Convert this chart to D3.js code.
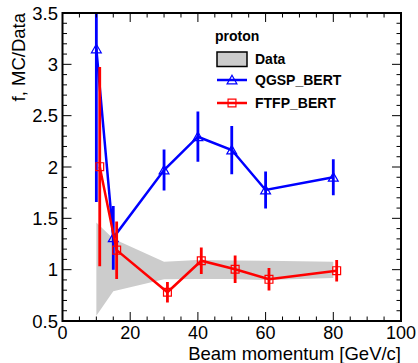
<!DOCTYPE html>
<html><head><meta charset="utf-8">
<script src="https://cdn.jsdelivr.net/npm/d3@7"></script>
<style>body{margin:0;background:#fff}svg{display:block}text{font-family:"Liberation Sans",Arial,Helvetica,sans-serif}</style>
</head><body><svg id="c" width="418" height="363"></svg>
<script>
// ---- data ----
const bandX = [10, 15, 30, 40, 50, 60, 80];
const bandLow = [0.55, 0.79, 0.906, 0.909, 0.91, 0.90, 0.92];
const bandHigh = [1.46, 1.30, 1.077, 1.094, 1.09, 1.087, 1.077];
const qgspX = [10, 15, 30, 40, 50, 60, 80];
const qgspY = [3.15, 1.31, 1.97, 2.295, 2.165, 1.776, 1.90];
const qgspErr = [1.49, 0.31, 0.20, 0.245, 0.235, 0.18, 0.175];
const ftfpX = [11, 16, 31, 41, 51, 61, 81];
const ftfpY = [2.003, 1.19, 0.78, 1.087, 1.004, 0.906, 0.99];
const ftfpErr = [0.97, 0.28, 0.10, 0.13, 0.135, 0.11, 0.105];
const xTicks = [0, 20, 40, 60, 80, 100];
const yTicks = [0.5, 1, 1.5, 2, 2.5, 3, 3.5];
const legendTitle = "proton";
const legendNames = ["Data", "QGSP_BERT", "FTFP_BERT"];

// ---- layout ----
const L = 62.5, R = 401, T = 13, B = 321;
const svg = d3.select("#c");
const x = d3.scaleLinear().domain([0, 100]).range([L, R]);
const y = d3.scaleLinear().domain([0.5, 3.5]).range([B, T]);

svg.append("defs").append("clipPath").attr("id", "clip")
  .append("rect").attr("x", L).attr("y", T).attr("width", R - L).attr("height", B - T);
const g = svg.append("g").attr("clip-path", "url(#clip)");

// band
const band = bandX.map((v, i) => ({x: v, lo: bandLow[i], hi: bandHigh[i]}));
g.append("path").datum(band)
  .attr("d", d3.area().x(d => x(d.x)).y0(d => y(d.lo)).y1(d => y(d.hi)))
  .attr("fill", "#cccccc").attr("stroke", "none");

function series(xs, ys, es, color, marker) {
  const pts = xs.map((v, i) => ({x: v, y: ys[i], e: es[i]}));
  g.append("path").datum(pts)
    .attr("d", d3.line().x(d => x(d.x)).y(d => y(d.y)))
    .attr("fill", "none").attr("stroke", color).attr("stroke-width", 2.5);
  g.selectAll(null).data(pts).enter().append("line")
    .attr("x1", d => x(d.x)).attr("x2", d => x(d.x))
    .attr("y1", d => y(d.y + d.e)).attr("y2", d => y(d.y - d.e))
    .attr("stroke", color).attr("stroke-width", 2.8);
  const sym = marker === "tri" ? d3.symbol(d3.symbolTriangle, 42) : d3.symbol(d3.symbolSquare, 62);
  g.selectAll(null).data(pts).enter().append("path")
    .attr("d", sym)
    .attr("transform", d => `translate(${x(d.x)},${y(d.y) + (marker === "tri" ? 1 : 0)})`)
    .attr("fill", "none").attr("stroke", color).attr("stroke-width", 1.2);
}
series(qgspX, qgspY, qgspErr, "#0000ff", "tri");
series(ftfpX, ftfpY, ftfpErr, "#ff0000", "sq");

// ticks (inside, all four sides)
const ax = svg.append("g").attr("stroke", "#000");
const xMinor = d3.range(0, 101, 5), yMinor = d3.range(0.5, 3.501, 0.1);
xMinor.forEach(v => {
  const len = (v % 20 === 0) ? 9 : 4.5;
  ax.append("line").attr("x1", x(v)).attr("x2", x(v)).attr("y1", B).attr("y2", B - len).attr("stroke-width", 1);
  ax.append("line").attr("x1", x(v)).attr("x2", x(v)).attr("y1", T).attr("y2", T + len).attr("stroke-width", 1);
});
yMinor.forEach(v => {
  const major = Math.abs(v * 2 - Math.round(v * 2)) < 1e-6;
  const len = major ? 9 : 4.5;
  ax.append("line").attr("y1", y(v)).attr("y2", y(v)).attr("x1", L).attr("x2", L + len).attr("stroke-width", 1);
  ax.append("line").attr("y1", y(v)).attr("y2", y(v)).attr("x1", R).attr("x2", R - len).attr("stroke-width", 1);
});
svg.append("rect").attr("x", L).attr("y", T).attr("width", R - L).attr("height", B - T)
  .attr("fill", "none").attr("stroke", "#000").attr("stroke-width", 2);

// tick labels
svg.selectAll(null).data(xTicks).enter().append("text")
  .attr("x", d => x(d)).attr("y", 339).attr("text-anchor", "middle")
  .attr("font-size", 18).text(d => d);
svg.selectAll(null).data(yTicks).enter().append("text")
  .attr("x", 58).attr("y", d => y(d)).attr("dy", "0.36em").attr("text-anchor", "end")
  .attr("font-size", 18.5).text(d => d);

// titles
svg.append("text").attr("x", R).attr("y", 359.5).attr("text-anchor", "end")
  .attr("font-size", 18.5).text("Beam momentum [GeV/c]");
svg.append("text").attr("transform", `translate(25,${T}) rotate(-90)`).attr("text-anchor", "end")
  .attr("font-size", 18.5).text("f, MC/Data");

// legend
const lg = svg.append("g");
lg.append("text").attr("x", 215).attr("y", 41).attr("font-size", 14).attr("font-weight", "bold").text(legendTitle);
lg.append("rect").attr("x", 217).attr("y", 52).attr("width", 30).attr("height", 14.5)
  .attr("fill", "#cccccc").attr("stroke", "#000").attr("stroke-width", 1.5);
lg.append("text").attr("x", 255).attr("y", 64).attr("font-size", 14).attr("font-weight", "bold").text(legendNames[0]);
[["#0000ff", "tri", 80, 85, legendNames[1]], ["#ff0000", "sq", 103, 108, legendNames[2]]].forEach(([c, m, ly, ty, name]) => {
  lg.append("line").attr("x1", 217).attr("x2", 247).attr("y1", ly).attr("y2", ly).attr("stroke", c).attr("stroke-width", 2.5);
  const sym = m === "tri" ? d3.symbol(d3.symbolTriangle, 42) : d3.symbol(d3.symbolSquare, 62);
  lg.append("path").attr("d", sym).attr("transform", `translate(232,${ly + (m === "tri" ? 1 : 0)})`)
    .attr("fill", "none").attr("stroke", c).attr("stroke-width", 1.2);
  lg.append("text").attr("x", 255).attr("y", ty).attr("font-size", 14).attr("font-weight", "bold").text(name);
});
</script></body></html>
